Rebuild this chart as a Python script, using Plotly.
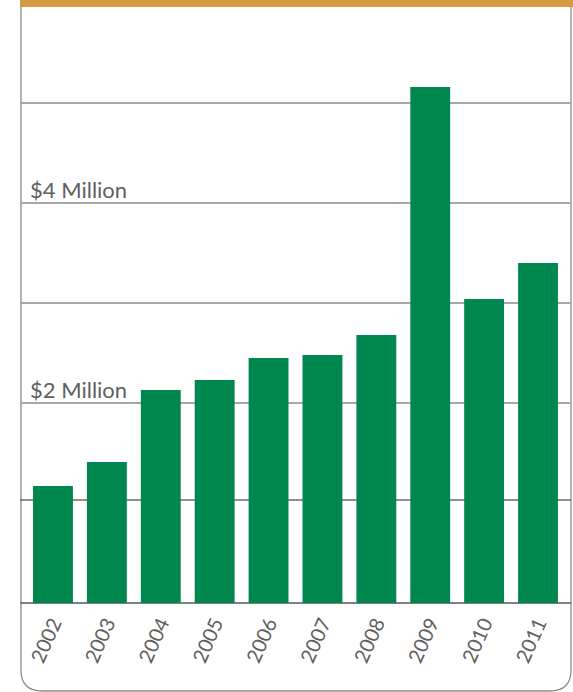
import plotly.graph_objects as go

years = ["2002", "2003", "2004", "2005", "2006", "2007", "2008", "2009", "2010", "2011"]
values_millions = [1.17, 1.41, 2.13, 2.23, 2.45, 2.48, 2.68, 5.16, 3.04, 3.40]
label_vals = [2, 4]
label_text = ["$2 Million", "$4 Million"]

W, H = 573, 692
L, R, T, B = 20, 2, 7, 89
pw = W - L - R
ph = H - T - B


def px(x):
    return (x - L) / pw


def py(y):
    return (H - B - y) / ph


fig = go.Figure()
fig.add_trace(go.Bar(
    x=years, y=values_millions, width=0.74,
    marker=dict(color="#00874F", line=dict(width=0)),
    hoverinfo="x+y",
))

shapes = []
# orange header band
shapes.append(dict(type="rect", xref="paper", yref="paper",
                   x0=px(20), x1=px(573), y0=py(7), y1=py(0),
                   fillcolor="#D69A42", line=dict(width=0), layer="above"))
# frame with rounded bottom corners
path = (f"M {px(21)},{py(7)} L {px(21)},{py(670)} "
        f"Q {px(21)},{py(691)} {px(42)},{py(691)} "
        f"L {px(550)},{py(691)} "
        f"Q {px(571)},{py(691)} {px(571)},{py(670)} "
        f"L {px(571)},{py(7)}")
shapes.append(dict(type="path", xref="paper", yref="paper", path=path,
                   line=dict(color="#8C8C8C", width=1.3), layer="below"))
# darker $1M line
shapes.append(dict(type="line", xref="paper", yref="y", x0=0, x1=1, y0=1.03, y1=1.03,
                   line=dict(color="#6A6A6A", width=1.6), layer="below"))

annotations = []
for v, t in zip(label_vals, label_text):
    annotations.append(dict(xref="paper", yref="y", x=px(28), y=v, text=t,
                            showarrow=False, xanchor="left", yanchor="bottom",
                            yshift=-2,
                            font=dict(family="Lato", size=22, color="#606060")))

fig.update_layout(
    width=W, height=H,
    margin=dict(l=L, r=R, t=T, b=B),
    paper_bgcolor="white", plot_bgcolor="white",
    showlegend=False,
    bargap=0.26,
    shapes=shapes,
    annotations=annotations,
    xaxis=dict(type="category", range=[-0.612, 9.612], showgrid=False,
               showline=False, zeroline=False, ticks="",
               tickangle=-66, ticklabelstandoff=4,
               tickfont=dict(family="Lato", size=20, color="#606060")),
    yaxis=dict(range=[0, ph / 100], tickvals=[2, 3, 4, 5], showticklabels=False,
               showgrid=True, gridcolor="#A8A8A8", gridwidth=1.5,
               zeroline=True, zerolinecolor="#808080", zerolinewidth=2,
               showline=False, ticks=""),
)

fig.write_html("out.html", config={"displayModeBar": False},
               post_script="document.body.style.margin='0px';document.body.style.overflow='hidden';")
